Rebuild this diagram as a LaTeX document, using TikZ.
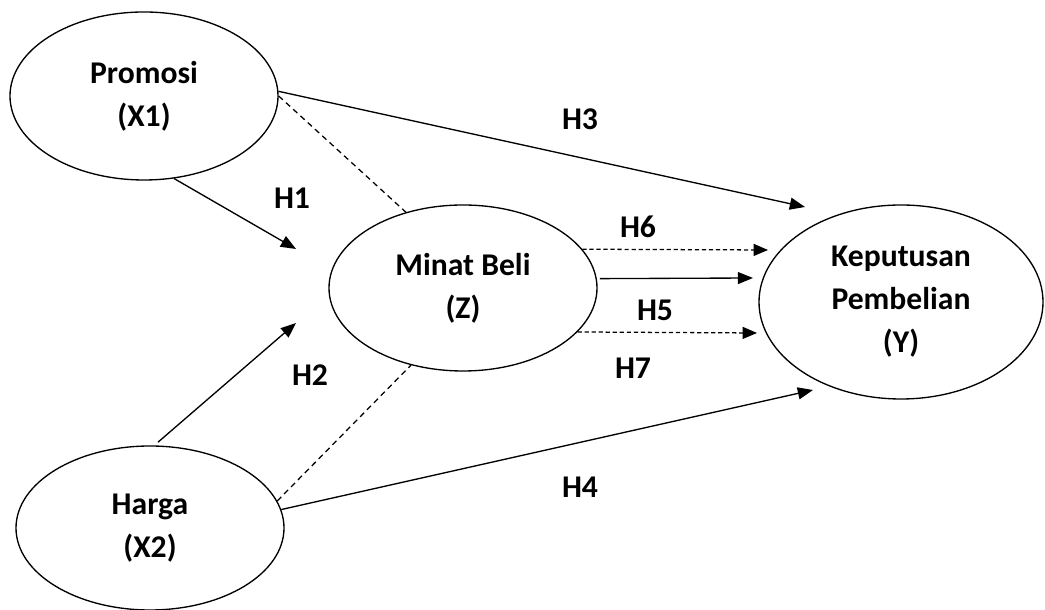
\documentclass[tikz,border=0pt]{standalone}
\usepackage{fontspec}
\setmainfont{Carlito}
\usetikzlibrary{shapes, arrows.meta, positioning, calc}

\tikzset{
  var/.style={draw, ellipse, line width=0.95pt, inner sep=0pt, align=center,
    font=\fontsize{22.5}{30.5}\selectfont\bfseries},
  hyp/.style={font=\fontsize{22.5}{26}\selectfont\bfseries},
  link/.style={line width=0.95pt, -{Triangle[length=0.38cm, width=0.3cm]}},
  dlink/.style={line width=0.9pt, dash pattern=on 4pt off 3pt},
  dshort/.style={line width=0.9pt, dash pattern=on 3pt off 2pt, -{Triangle[length=0.36cm, width=0.3cm]}}
}

\begin{document}
\begin{tikzpicture}
        \useasboundingbox (0,0) rectangle (26.125,15.25);

        % Variables
        \node[var, minimum width=6.7cm, minimum height=4.2cm] (pro) at (3.6,12.85) {Promosi\\(X1)};
        \node[var, minimum width=6.7cm, minimum height=4.1cm] (har) at (3.75,2.05) {Harga\\(X2)};
        \node[var, minimum width=6.7cm, minimum height=4.15cm] (min) at (11.575,8.05) {Minat Beli\\(Z)};
        \node[var, minimum width=7.1cm, minimum height=4.85cm] (kep) at (22.525,7.7) {Keputusan\\Pembelian\\(Y)};

        % Free arrow ends
        \coordinate (h1end) at (7.4,9.025);
        \coordinate (h2end) at (7.4,7.175);
        \coordinate (h3end) at (20.125,10.075);
        \coordinate (h4end) at (20.325,5.5);
        \coordinate (h6end) at (19.2,9.0);
        \coordinate (zend) at (18.825,8.3);
        \coordinate (h5end) at (18.925,6.925);

        % Direct paths
        \draw[link] (pro.-70) -- (h1end);
        \draw[link, shorten <=0.12cm] (har.87) -- (h2end);
        \draw[link] (pro.2) -- (h3end);
        \draw[link] (har.8) -- (h4end);

        % Mediation paths
        \draw[dlink] (pro.east) -- (min.127);
        \draw[dlink] (har.12) -- (min.236);
        \draw[dshort] (min.18) -- (h6end);
        \draw[link, shorten <=0.075cm] (min.4) -- (zend);
        \draw[dshort] (min.-21) -- (h5end);

        % Hypothesis labels
        \node[hyp] (lh1) at (7.3,10.3) {H1};
        \node[hyp] (lh2) at (7.75,5.875) {H2};
        \node[hyp] (lh3) at (14.5,12.275) {H3};
        \node[hyp] (lh4) at (14.5,3.075) {H4};
        \node[hyp] (lh6) at (15.95,9.575) {H6};
        \node[hyp] (lh5) at (16.375,7.5) {H5};
        \node[hyp] (lh7) at (15.825,6.05) {H7};
    \end{tikzpicture}
\end{document}
